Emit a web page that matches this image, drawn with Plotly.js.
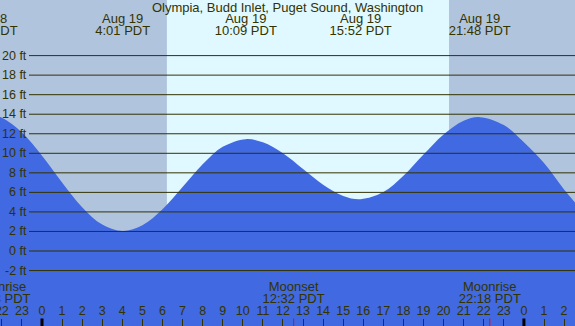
<!DOCTYPE html>
<html><head><meta charset="utf-8">
<script src="https://cdn.plot.ly/plotly-3.0.1.min.js"></script>
<style>html,body{margin:0;padding:0;background:#B0C4DE;overflow:hidden}#c{width:575px;height:326px}</style>
</head><body><div id="c"></div>
<script>
// Tide heights (ft) at hours relative to Aug 19 00:00 PDT
const tideHours   = [-2.75, -2, -1, 0, 1, 2, 3, 4.02, 5, 6, 7, 8, 9, 10.15, 11, 12, 13, 14, 15, 15.87, 17, 18, 19, 20, 21, 21.8, 23, 24, 25, 26, 27];
const tideHeights = [14.0, 13.64, 12.14, 9.76, 7.02, 4.49, 2.71, 2.05, 2.63, 4.27, 6.54, 8.87, 10.66, 11.45, 11.12, 10.0, 8.39, 6.79, 5.64, 5.3, 6.03, 7.7, 9.87, 11.93, 13.33, 13.7, 12.89, 11.13, 9.0, 6.3, 3.9];

const extremeHours = [-2.76, 4.02, 10.15, 15.87, 21.8];
const extremeDates = ["Aug 18", "Aug 19", "Aug 19", "Aug 19", "Aug 19"];
const extremeTimes = ["21:14 PDT", "4:01 PDT", "10:09 PDT", "15:52 PDT", "21:48 PDT"];

const moonHours = [-2.12, 12.53, 22.3];
const moonNames = ["Moonrise", "Moonset", "Moonrise"];
const moonTimes = ["21:53 PDT", "12:32 PDT", "22:18 PDT"];

const sunriseHour = 6.22;
const sunsetHour = 20.27;

const hourTicks  = [-2,-1,0,1,2,3,4,5,6,7,8,9,10,11,12,13,14,15,16,17,18,19,20,21,22,23,24,25,26];
const hourLabels = ["22","23","0","1","2","3","4","5","6","7","8","9","10","11","12","13","14","15","16","17","18","19","20","21","22","23","0","1","2"];
const midnightHours = [0, 24];

const heightTicks  = [-2,0,2,4,6,8,10,12,14,16,18,20];
const heightLabels = heightTicks.map(v => v + " ft");

const W = 575, H = 326;
const TXT = '#333300';
const FAM = 'Liberation Sans, Arial, sans-serif';
const FONT = {family: FAM, size: 13, color: TXT};
const FONT_S = {family: FAM, size: 12.5, color: TXT};

const traces = [
  {x: tideHours, y: tideHeights, type: 'scatter', mode: 'lines', fill: 'tozeroy',
   fillcolor: '#4169E1', line: {color: '#4169E1', width: 0, shape: 'spline'}, hoverinfo: 'skip'},
  {x: extremeHours, y: extremeHours.map(() => 19.5), yaxis: 'y2', type: 'scatter', mode: 'text',
   text: extremeDates, textposition: 'middle center', textfont: FONT, hoverinfo: 'skip'},
  {x: extremeHours, y: extremeHours.map(() => 32), yaxis: 'y2', type: 'scatter', mode: 'text',
   text: extremeTimes, textposition: 'middle center', textfont: FONT, hoverinfo: 'skip'},
  {x: moonHours, y: moonHours.map(() => 287.3), yaxis: 'y2', type: 'scatter', mode: 'text',
   text: moonNames, textposition: 'middle center', textfont: FONT, hoverinfo: 'skip'},
  {x: moonHours, y: moonHours.map(() => 299.5), yaxis: 'y2', type: 'scatter', mode: 'text',
   text: moonTimes, textposition: 'middle center', textfont: FONT, hoverinfo: 'skip'},
  {x: hourTicks, y: hourTicks.map(() => 311.5), yaxis: 'y2', type: 'scatter', mode: 'text',
   text: hourLabels, textposition: 'middle center', textfont: FONT_S, hoverinfo: 'skip'}
];

const pxPerHour = 20.08;
const x0 = -42 / pxPerHour, x1 = (W - 42) / pxPerHour;
const pxPerFt = 9.77;
const y0 = -(H - 251) / pxPerFt, y1 = 251 / pxPerFt;

const shapes = [
  {type: 'rect', xref: 'x', yref: 'paper', x0: sunriseHour, x1: sunsetHour, y0: 0, y1: 1,
   fillcolor: '#E0F8FF', line: {width: 0}, layer: 'below'},
  {type: 'rect', xref: 'paper', yref: 'y', x0: 0, x1: 1, y0: -20, y1: 0,
   fillcolor: '#4169E1', line: {width: 0}, layer: 'below'}
];
heightTicks.forEach(v => shapes.push({type: 'line', xref: 'paper', yref: 'y', x0: 29 / W, x1: 1, y0: v, y1: v,
  line: {color: TXT, width: 1}, layer: 'above'}));
midnightHours.forEach(h => shapes.push({type: 'line', xref: 'x', yref: 'paper', x0: h, x1: h, y0: 0, y1: 7.5 / H,
  line: {color: '#000000', width: 3}, layer: 'above'}));
moonHours.forEach(h => shapes.push({type: 'line', xref: 'x', yref: 'paper', x0: h, x1: h, y0: 0, y1: 7.5 / H,
  line: {color: '#FF0000', width: 1}, layer: 'above'}));

const annotations = heightTicks.map((v, i) => ({
  xref: 'paper', yref: 'y', x: 28.5 / W, y: v, xanchor: 'right', yanchor: 'middle',
  text: heightLabels[i], showarrow: false, font: FONT_S
}));

const layout = {
  width: W, height: H,
  margin: {l: 0, r: 0, t: 0, b: 0, pad: 0},
  paper_bgcolor: '#B0C4DE', plot_bgcolor: '#B0C4DE',
  showlegend: false,
  title: {text: 'Olympia, Budd Inlet, Puget Sound, Washington', x: 0.5, xanchor: 'center',
          y: 1 - 7.5 / H, yanchor: 'middle', font: FONT},
  xaxis: {range: [x0, x1], showgrid: false, zeroline: false, showline: false,
          tickvals: hourTicks, ticks: 'inside', ticklen: 7.5, tickwidth: 1, tickcolor: TXT,
          showticklabels: false, fixedrange: true},
  yaxis: {range: [y0, y1], showgrid: false, zeroline: false, showline: false,
          showticklabels: false, ticks: '', fixedrange: true},
  yaxis2: {range: [H, 0], overlaying: 'y', visible: false, fixedrange: true},
  shapes: shapes,
  annotations: annotations
};

Plotly.newPlot('c', traces, layout, {staticPlot: true, displayModeBar: false});
</script>
</body></html>
